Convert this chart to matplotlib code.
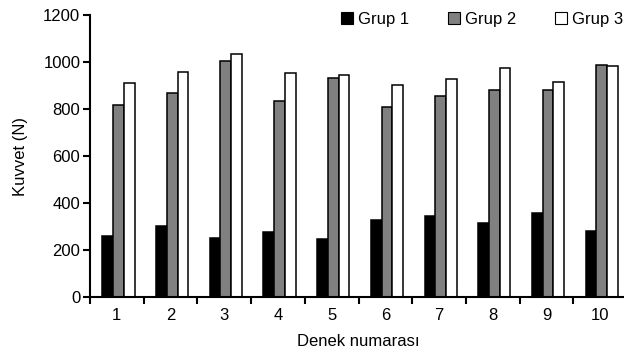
import matplotlib
matplotlib.use("Agg")
import matplotlib.pyplot as plt
import numpy as np
from matplotlib.patches import Patch

plt.rcParams['font.family'] = ['Liberation Sans', 'DejaVu Sans']

categories = ['1', '2', '3', '4', '5', '6', '7', '8', '9', '10']
grup1 = [260, 302, 251, 277, 247, 328, 345, 315, 359, 282]
grup2 = [815, 869, 1005, 832, 933, 807, 854, 880, 880, 986]
grup3 = [910, 957, 1032, 952, 943, 902, 929, 973, 916, 983]
series_names = ['Grup 1', 'Grup 2', 'Grup 3']
yticks = [0, 200, 400, 600, 800, 1000, 1200]

FS = 12

fig = plt.figure(figsize=(6.24, 3.56), dpi=100)
ax = fig.add_axes([90/624, 59/356, 537/624, 282/356])

x = np.arange(len(categories))
w = 0.2
colors = ['#000000', '#808080', '#ffffff']
for i, (vals, c) in enumerate(zip([grup1, grup2, grup3], colors)):
    ax.bar(x + (i - 1) * w + 0.03, vals, width=w, color=c, edgecolor='black', linewidth=1.1, zorder=2)

ax.set_xlim(-0.5, len(categories) - 0.5)
ax.set_ylim(0, 1200)
ax.set_yticks(yticks)
ax.set_yticklabels([str(v) for v in yticks], fontsize=FS)

ax.set_xticks(x)
ax.set_xticklabels(categories, fontsize=FS)
ax.tick_params(axis='x', which='major', length=0, pad=8)
ax.set_xticks(np.arange(len(categories)) - 0.5, minor=True)
ax.tick_params(axis='x', which='minor', length=5, width=1.5, direction='out')
ax.tick_params(axis='y', length=5, width=1.5, direction='out', pad=2)

for s in ['top', 'right']:
    ax.spines[s].set_visible(False)
for s in ['left', 'bottom']:
    ax.spines[s].set_linewidth(1.5)

ax.set_ylabel('Kuvvet (N)', fontsize=FS, labelpad=11)
ax.set_xlabel('Denek numarası', fontsize=FS, labelpad=8)

handles = [Patch(facecolor=c, edgecolor='black', linewidth=0.8) for c in colors]
fig.legend(handles, series_names, loc='upper right', bbox_to_anchor=(623/624, 1 - 12/356),
           ncol=3, frameon=False, fontsize=FS, handlelength=0.7, handleheight=0.7,
           handletextpad=0.3, columnspacing=2.35, borderaxespad=0, borderpad=0)

fig.savefig('out.png', dpi=100)
